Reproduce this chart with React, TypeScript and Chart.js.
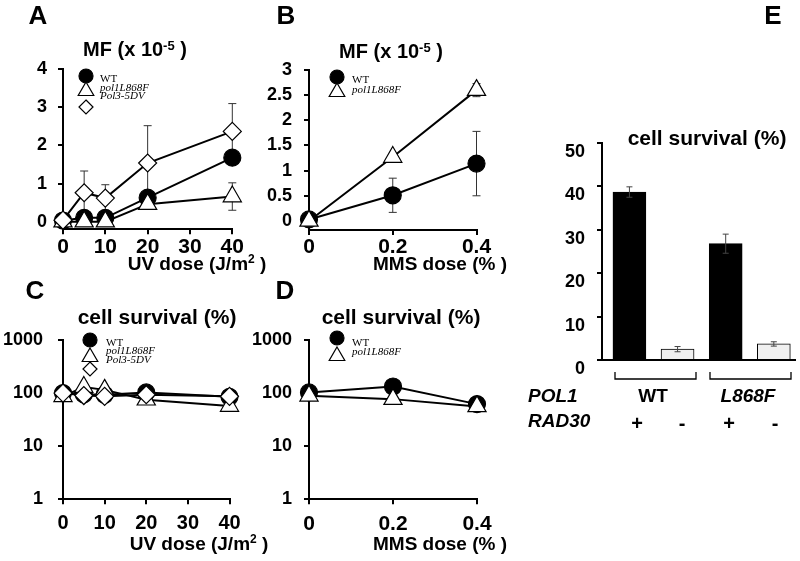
import React, { useEffect, useRef } from 'react';
import { Chart, registerables } from 'chart.js';

Chart.register(...registerables);

// ---------- DATA ----------
const SERIES = ['WT', 'pol1L868F', 'Pol3-5DV'];

// Panel A: MF vs UV dose
const A_DOSE = [0, 5, 10, 20, 40];
const A_WT = [0.03, 0.1, 0.1, 0.63, 1.68];
const A_L868F = [0, 0, 0, 0.46, 0.66];
const A_L868F_ERR = [0, 0, 0, 0, 0.36];
const A_DV = [0.04, 0.76, 0.62, 1.54, 2.37];
const A_DV_ERR = [0, 0.57, 0.35, 0.98, 0.73];
const A_X_TICKS = [0, 10, 20, 30, 40];
const A_Y_TICKS = [0, 1, 2, 3, 4];

// Panel B: MF vs MMS dose
const B_DOSE = [0, 0.2, 0.4];
const B_WT = [0.03, 0.51, 1.14];
const B_WT_ERR = [0, 0.34, 0.64];
const B_L868F = [0, 1.27, 2.6];
const B_L868F_ERR = [0, 0, 0.13];
const B_X_TICKS = [0, 0.2, 0.4];
const B_Y_TICKS = [0, 0.5, 1, 1.5, 2, 2.5, 3];

// Panel C: survival vs UV dose
const C_DOSE = [0, 5, 10, 20, 40];
const C_WT = [100, 95, 93, 103, 85];
const C_L868F = [87, 130, 115, 75, 57];
const C_DV = [100, 90, 87, 93, 87];
const C_X_TICKS = [0, 10, 20, 30, 40];
const LOG_TICKS = [1, 10, 100, 1000];

// Panel D: survival vs MMS dose
const D_DOSE = [0, 0.2, 0.4];
const D_WT = [103, 133, 62];
const D_L868F = [89, 77, 56];
const D_X_TICKS = [0, 0.2, 0.4];

// Panel E: survival bars
const E_POL1 = ['WT', 'L868F'];
const E_RAD30 = ['+', '-', '+', '-'];
const E_VALUES = [38.7, 2.5, 26.8, 3.7];
const E_ERR = [1.2, 0.6, 2.2, 0.5];
const E_Y_TICKS = [0, 10, 20, 30, 40, 50];

// ---------- STYLE ----------
const SANS = '"Liberation Sans", Arial, Helvetica, sans-serif';
const SERIF = '"Liberation Serif", "Times New Roman", serif';
const W = 800;
const H = 561;
const YW = 60;
const XH = 40;

const MARK: Record<string, { style: string; r: number; fill: string }> = {
  WT: { style: 'circle', r: 8.5, fill: '#000' },
  L868F: { style: 'triangle', r: 10.5, fill: '#fff' },
  DV: { style: 'rectRot', r: 9, fill: '#fff' },
};

type Seg = { t: string; size: number; italic?: boolean; normal?: boolean; family?: string; dy?: number };
type TextItem = { x: number; y: number; align?: 'left' | 'center' | 'right'; segs: Seg[] };
type LegendItem = { key: string; label: string; mx: number; my: number; r: number; tx: number; ty: number; italic: boolean };
type Decor = {
  texts: TextItem[];
  legend?: LegendItem[];
  lines?: number[][][];
  errLayer: 'before' | 'after';
  cap: number;
  errColor: string;
};

function fontStr(s: Seg) {
  return `${s.italic ? 'italic ' : ''}${s.normal ? 'normal' : 'bold'} ${s.size}px ${s.family || SANS}`;
}

function drawRich(ctx: CanvasRenderingContext2D, it: TextItem) {
  let total = 0;
  it.segs.forEach((s) => {
    ctx.font = fontStr(s);
    total += ctx.measureText(s.t).width;
  });
  let x = it.align === 'center' ? it.x - total / 2 : it.align === 'right' ? it.x - total : it.x;
  ctx.textBaseline = 'middle';
  ctx.textAlign = 'left';
  ctx.fillStyle = '#000';
  it.segs.forEach((s) => {
    ctx.font = fontStr(s);
    ctx.fillText(s.t, x, it.y + (s.dy || 0));
    x += ctx.measureText(s.t).width;
  });
}

function drawMarker(ctx: CanvasRenderingContext2D, style: string, x: number, y: number, r: number, fill: string) {
  ctx.beginPath();
  if (style === 'circle') {
    ctx.arc(x, y, r, 0, Math.PI * 2);
  } else if (style === 'triangle') {
    ctx.moveTo(x, y - r);
    ctx.lineTo(x + 0.866 * r, y + r / 2);
    ctx.lineTo(x - 0.866 * r, y + r / 2);
    ctx.closePath();
  } else {
    ctx.moveTo(x, y - r);
    ctx.lineTo(x + r, y);
    ctx.lineTo(x, y + r);
    ctx.lineTo(x - r, y);
    ctx.closePath();
  }
  ctx.fillStyle = fill;
  ctx.fill();
  ctx.lineWidth = 1.2;
  ctx.strokeStyle = '#000';
  ctx.stroke();
}

function drawErrors(chart: any, d: Decor) {
  const ctx: CanvasRenderingContext2D = chart.ctx;
  const ys = chart.scales.y;
  ctx.save();
  ctx.strokeStyle = d.errColor;
  ctx.lineWidth = 1;
  chart.data.datasets.forEach((ds: any, i: number) => {
    if (!ds.err) return;
    const meta = chart.getDatasetMeta(i);
    ds.err.forEach((e: number, j: number) => {
      if (!e) return;
      const el = meta.data[j];
      const v = ds.data[j].y;
      const x = el.x;
      const y1 = ys.getPixelForValue(v + e);
      const y2 = ys.getPixelForValue(v - e);
      ctx.beginPath();
      ctx.moveTo(x, y1);
      ctx.lineTo(x, y2);
      ctx.moveTo(x - d.cap, y1);
      ctx.lineTo(x + d.cap, y1);
      ctx.moveTo(x - d.cap, y2);
      ctx.lineTo(x + d.cap, y2);
      ctx.stroke();
    });
  });
  ctx.restore();
}

function decorPlugin(d: Decor) {
  return {
    id: 'decor',
    beforeDatasetsDraw(chart: any) {
      if (d.errLayer === 'before') drawErrors(chart, d);
    },
    afterDatasetsDraw(chart: any) {
      if (d.errLayer === 'after') drawErrors(chart, d);
    },
    afterDraw(chart: any) {
      const ctx: CanvasRenderingContext2D = chart.ctx;
      ctx.save();
      d.texts.forEach((t) => drawRich(ctx, t));
      (d.legend || []).forEach((l) => {
        const m = MARK[l.key];
        drawMarker(ctx, m.style, l.mx, l.my, l.r, m.fill);
        drawRich(ctx, { x: l.tx, y: l.ty, segs: [{ t: l.label, size: 11, italic: l.italic, normal: true, family: SERIF }] });
      });
      ctx.strokeStyle = '#000';
      ctx.lineWidth = 1.3;
      (d.lines || []).forEach((pl) => {
        ctx.beginPath();
        pl.forEach((p, i) => (i === 0 ? ctx.moveTo(p[0], p[1]) : ctx.lineTo(p[0], p[1])));
        ctx.stroke();
      });
      ctx.restore();
    },
  };
}

function lineDs(label: string, key: string, xs: number[], ys: number[], order: number, err?: number[]) {
  const m = MARK[key];
  return {
    label,
    data: xs.map((x, i) => ({ x, y: ys[i] })),
    err,
    borderColor: '#000',
    borderWidth: 2,
    pointStyle: m.style,
    pointRadius: m.r,
    pointHoverRadius: m.r,
    pointBackgroundColor: m.fill,
    pointBorderColor: '#000',
    pointBorderWidth: 1.2,
    tension: 0,
    fill: false,
    clip: false,
    order,
  };
}

type Area = { l: number; t: number; r: number; b: number };

function axis(opts: any) {
  const { ticks, font, pad, labelOffset, showTicks = true, extra = {}, isX, force } = opts;
  return {
    ...extra,
    afterFit: (s: any) => {
      if (isX) s.height = XH;
      else s.width = YW;
    },
    afterDataLimits: force
      ? (s: any) => {
          s.min = force[0];
          s.max = force[1];
        }
      : undefined,
    afterBuildTicks: (s: any) => {
      if (ticks) s.ticks = ticks.map((v: number) => ({ value: v }));
      if (force) {
        s.min = force[0];
        s.max = force[1];
      }
    },
    grid: showTicks
      ? { display: true, drawOnChartArea: false, drawTicks: true, tickLength: 5, color: '#000', lineWidth: 2 }
      : { display: false },
    border: { display: true, color: '#000', width: 2 },
    ticks: {
      display: showTicks,
      color: '#000',
      font: { family: SANS, size: font, weight: 'bold' },
      padding: pad,
      labelOffset: labelOffset || 0,
      autoSkip: false,
      maxRotation: 0,
      minRotation: 0,
      callback: (v: any) => String(v),
    },
  };
}

function baseOptions(area: Area, xAxis: any, yAxis: any) {
  return {
    responsive: false,
    maintainAspectRatio: false,
    animation: false,
    devicePixelRatio: 1,
    events: [],
    layout: {
      padding: { left: area.l - YW, right: W - area.r, top: area.t, bottom: H - area.b - XH },
    },
    plugins: { legend: { display: false }, tooltip: { enabled: false }, title: { display: false } },
    scales: { x: xAxis, y: yAxis },
  };
}

const mfTitle = (x: number, y: number): TextItem => ({
  x, y, align: 'center',
  segs: [
    { t: 'MF (x 10', size: 20 },
    { t: '-5', size: 13, dy: -4 },
    { t: ' )', size: 20 },
  ],
});
const survTitle = (x: number, y: number): TextItem => ({ x, y, align: 'center', segs: [{ t: 'cell survival (%)', size: 21 }] });
const uvLabel = (x: number, y: number): TextItem => ({
  x, y, align: 'center',
  segs: [{ t: 'UV dose (J/m', size: 19 }, { t: '2', size: 12, dy: -5 }, { t: ' )', size: 19 }],
});
const mmsLabel = (x: number, y: number): TextItem => ({ x, y, align: 'center', segs: [{ t: 'MMS dose (% )', size: 19 }] });
const letter = (t: string, x: number, y: number): TextItem => ({ x, y, align: 'center', segs: [{ t, size: 26 }] });

function configA() {
  const area = { l: 63, t: 69.3, r: 232.3, b: 229.3 };
  return {
    type: 'line',
    data: {
      datasets: [
        lineDs(SERIES[0], 'WT', A_DOSE, A_WT, 3),
        lineDs(SERIES[1], 'L868F', A_DOSE, A_L868F, 2, A_L868F_ERR),
        lineDs(SERIES[2], 'DV', A_DOSE, A_DV, 1, A_DV_ERR),
      ],
    },
    options: baseOptions(
      area,
      axis({ isX: true, ticks: A_X_TICKS, font: 21, pad: 0, extra: { type: 'linear', min: 0, max: 40 } }),
      axis({ ticks: A_Y_TICKS, font: 18, pad: 11, extra: { type: 'linear', min: -0.2, max: 4 } })
    ),
    plugins: [
      decorPlugin({
        errLayer: 'before', cap: 4, errColor: '#333',
        texts: [letter('A', 38, 17), mfTitle(135, 50), uvLabel(197, 265)],
        legend: [
          { key: 'WT', label: SERIES[0], mx: 86, my: 76, r: 7, tx: 100, ty: 79, italic: false },
          { key: 'L868F', label: SERIES[1], mx: 86, my: 91, r: 9, tx: 100, ty: 88, italic: true },
          { key: 'DV', label: SERIES[2], mx: 86, my: 107, r: 7, tx: 100, ty: 96, italic: true },
        ],
      }),
    ],
  };
}

function configB() {
  const area = { l: 309, t: 70, r: 476.5, b: 230 };
  return {
    type: 'line',
    data: {
      datasets: [
        lineDs(SERIES[0], 'WT', B_DOSE, B_WT, 3, B_WT_ERR),
        lineDs(SERIES[1], 'L868F', B_DOSE, B_L868F, 2, B_L868F_ERR),
      ],
    },
    options: baseOptions(
      area,
      axis({ isX: true, ticks: B_X_TICKS, font: 21, pad: 0, extra: { type: 'linear', min: 0, max: 0.4 } }),
      axis({ ticks: B_Y_TICKS, font: 18, pad: 12, extra: { type: 'linear', min: -0.18, max: 3 } })
    ),
    plugins: [
      decorPlugin({
        errLayer: 'before', cap: 4, errColor: '#333',
        texts: [letter('B', 286, 17), mfTitle(391, 52), mmsLabel(440, 265)],
        legend: [
          { key: 'WT', label: SERIES[0], mx: 337, my: 77, r: 7, tx: 352, ty: 80, italic: false },
          { key: 'L868F', label: SERIES[1], mx: 337, my: 92, r: 9, tx: 352, ty: 90, italic: true },
        ],
      }),
    ],
  };
}

function configC() {
  const area = { l: 63, t: 340, r: 229.5, b: 499.3 };
  return {
    type: 'line',
    data: {
      datasets: [
        lineDs(SERIES[0], 'WT', C_DOSE, C_WT, 3),
        lineDs(SERIES[1], 'L868F', C_DOSE, C_L868F, 2),
        lineDs(SERIES[2], 'DV', C_DOSE, C_DV, 1),
      ],
    },
    options: baseOptions(
      area,
      axis({ isX: true, ticks: C_X_TICKS, font: 20, pad: 7, extra: { type: 'linear', min: 0, max: 40 } }),
      axis({ ticks: LOG_TICKS, font: 18, pad: 15, extra: { type: 'logarithmic', min: 1, max: 1000 } })
    ),
    plugins: [
      decorPlugin({
        errLayer: 'before', cap: 4, errColor: '#333',
        texts: [letter('C', 35, 292), survTitle(157, 318), uvLabel(199, 545)],
        legend: [
          { key: 'WT', label: SERIES[0], mx: 90, my: 340, r: 7, tx: 106, ty: 343, italic: false },
          { key: 'L868F', label: SERIES[1], mx: 90, my: 357, r: 9, tx: 106, ty: 351, italic: true },
          { key: 'DV', label: SERIES[2], mx: 90, my: 369, r: 7, tx: 106, ty: 360, italic: true },
        ],
      }),
    ],
  };
}

function configD() {
  const area = { l: 309, t: 340, r: 477, b: 499.3 };
  return {
    type: 'line',
    data: {
      datasets: [
        lineDs(SERIES[0], 'WT', D_DOSE, D_WT, 3),
        lineDs(SERIES[1], 'L868F', D_DOSE, D_L868F, 2),
      ],
    },
    options: baseOptions(
      area,
      axis({ isX: true, ticks: D_X_TICKS, font: 21, pad: 7, extra: { type: 'linear', min: 0, max: 0.4 } }),
      axis({ ticks: LOG_TICKS, font: 18, pad: 12, extra: { type: 'logarithmic', min: 1, max: 1000 } })
    ),
    plugins: [
      decorPlugin({
        errLayer: 'before', cap: 4, errColor: '#333',
        texts: [letter('D', 285, 292), survTitle(401, 318), mmsLabel(440, 545)],
        legend: [
          { key: 'WT', label: SERIES[0], mx: 337, my: 338, r: 7, tx: 352, ty: 343, italic: false },
          { key: 'L868F', label: SERIES[1], mx: 337, my: 356, r: 9, tx: 352, ty: 352, italic: true },
        ],
      }),
    ],
  };
}

function configE() {
  const area = { l: 602, t: 143, r: 795, b: 360 };
  const rowY1 = 397;
  const rowY2 = 424;
  const plusX = [637, 682, 729, 775];
  return {
    type: 'bar',
    data: {
      datasets: [
        {
          label: 'cell survival (%)',
          data: E_VALUES.map((v, i) => ({ x: i, y: v })),
          err: E_ERR,
          backgroundColor: E_RAD30.map((r) => (r === '+' ? '#000' : '#f0f0f0')),
          borderColor: '#000',
          borderWidth: 1,
          barThickness: 33,
        },
      ],
    },
    options: baseOptions(
      area,
      axis({
        isX: true, showTicks: false, font: 18, pad: 0, force: [-0.57, 3.44],
        extra: { type: 'linear', min: -0.57, max: 3.44, offset: false, bounds: 'data', grace: 0 },
      }),
      axis({ ticks: E_Y_TICKS, font: 18, pad: 12, labelOffset: 9, extra: { type: 'linear', min: 0, max: 50 } })
    ),
    plugins: [
      decorPlugin({
        errLayer: 'after', cap: 3, errColor: '#444',
        texts: [
          letter('E', 773, 17),
          survTitle(707, 139),
          { x: 528, y: rowY1, align: 'left', segs: [{ t: 'POL1', size: 19, italic: true }] },
          { x: 528, y: rowY2 - 2, align: 'left', segs: [{ t: 'RAD30', size: 19, italic: true }] },
          { x: 653, y: rowY1, align: 'center', segs: [{ t: E_POL1[0], size: 19 }] },
          { x: 748, y: rowY1, align: 'center', segs: [{ t: E_POL1[1], size: 19, italic: true }] },
          ...E_RAD30.map((t, i) => ({ x: plusX[i], y: rowY2, align: 'center' as const, segs: [{ t, size: 20 }] })),
        ],
        lines: [
          [[615, 372], [615, 379], [696, 379], [696, 372]],
          [[710, 372], [710, 379], [791, 379], [791, 372]],
        ],
      }),
    ],
  };
}

export default function App() {
  const rA = useRef<HTMLCanvasElement>(null);
  const rB = useRef<HTMLCanvasElement>(null);
  const rC = useRef<HTMLCanvasElement>(null);
  const rD = useRef<HTMLCanvasElement>(null);
  const rE = useRef<HTMLCanvasElement>(null);

  useEffect(() => {
    const pairs: [React.RefObject<HTMLCanvasElement | null>, () => any][] = [
      [rA, configA],
      [rB, configB],
      [rC, configC],
      [rD, configD],
      [rE, configE],
    ];
    const charts = pairs.map(([r, cfg]) => new Chart(r.current as HTMLCanvasElement, cfg() as any));
    return () => charts.forEach((c) => c.destroy());
  }, []);

  const cs: React.CSSProperties = { position: 'absolute', left: 0, top: 0, width: W, height: H };
  return (
    <div style={{ position: 'fixed', left: 0, top: 0, width: W, height: H, background: '#fff', overflow: 'hidden' }}>
      <canvas ref={rA} width={W} height={H} style={cs} />
      <canvas ref={rB} width={W} height={H} style={cs} />
      <canvas ref={rC} width={W} height={H} style={cs} />
      <canvas ref={rD} width={W} height={H} style={cs} />
      <canvas ref={rE} width={W} height={H} style={cs} />
    </div>
  );
}
